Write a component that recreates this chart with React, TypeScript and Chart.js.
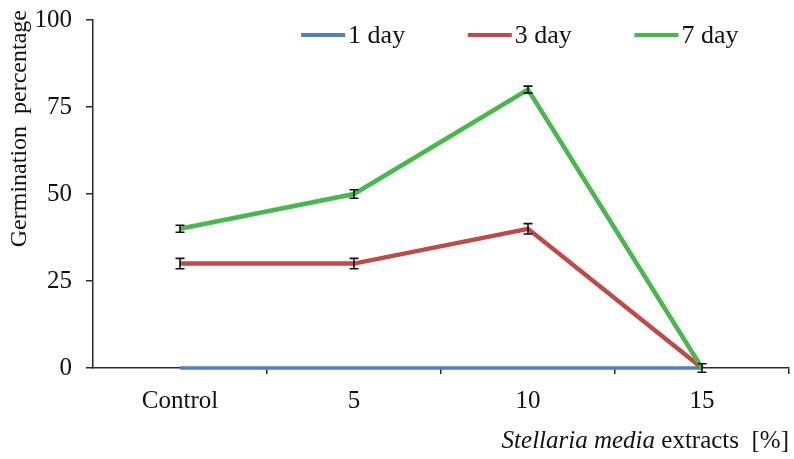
import React, { useEffect, useRef } from "react";
import { Chart, registerables } from "chart.js";

Chart.register(...registerables);

const categories = ["Control", "5", "10", "15"];
const seriesLabels = ["1 day", "3 day", "7 day"];
const seriesColors = ["#4F81BD", "#BE4B48", "#47B84B"];
const day1 = [0, 0, 0, 0];
const day3 = [30, 30, 40, 0];
const day7 = [40, 50, 80, 0];
const day1Err = [0, 0, 0, 0];
const day3Err = [1.5, 1.5, 1.5, 0];
const day7Err = [1, 1.2, 1, 1.2];
const yTickValues = [0, 25, 50, 75, 100];
const yTitle = "Germination  percentage";
const xTitleItalic = "Stellaria media";
const xTitleRest = " extracts  [%]";

const FONT = "'Liberation Serif', 'Times New Roman', serif";
const AXIS_COLOR = "#2b2b2b";

const errorBarPlugin = {
  id: "errorBars",
  afterDatasetsDraw(chart: any) {
    const ctx = chart.ctx;
    const yScale = chart.scales.y;
    ctx.save();
    ctx.strokeStyle = "#111";
    ctx.lineWidth = 1.6;
    chart.data.datasets.forEach((ds: any, di: number) => {
      const errs = ds.errors as number[];
      if (!errs) return;
      const meta = chart.getDatasetMeta(di);
      meta.data.forEach((pt: any, i: number) => {
        const e = errs[i];
        if (!e) return;
        const v = ds.data[i];
        const yTop = yScale.getPixelForValue(v + e);
        const yBot = yScale.getPixelForValue(Math.max(v - e, -1.5));
        const x = pt.x;
        const hw = 4.5;
        ctx.beginPath();
        ctx.moveTo(x, yTop);
        ctx.lineTo(x, yBot);
        ctx.moveTo(x - hw, yTop);
        ctx.lineTo(x + hw, yTop);
        ctx.moveTo(x - hw, yBot);
        ctx.lineTo(x + hw, yBot);
        ctx.stroke();
      });
    });
    ctx.restore();
  },
};

const textPlugin = {
  id: "customText",
  afterDraw(chart: any) {
    const ctx = chart.ctx;
    const area = chart.chartArea;
    ctx.save();
    ctx.fillStyle = "#111";
    // Legend
    ctx.font = `26px ${FONT}`;
    ctx.textBaseline = "middle";
    ctx.textAlign = "left";
    const legendY = area.top + 15;
    const startX = area.left + 0.299 * (area.right - area.left);
    const step = 0.2395 * (area.right - area.left);
    chart.data.datasets.forEach((ds: any, i: number) => {
      const x0 = startX + i * step;
      ctx.strokeStyle = ds.borderColor;
      ctx.lineWidth = 4;
      ctx.beginPath();
      ctx.moveTo(x0, legendY);
      ctx.lineTo(x0 + 44, legendY);
      ctx.stroke();
      ctx.fillStyle = "#111";
      ctx.fillText(ds.label, x0 + 47, legendY + 1);
    });
    // Y title
    ctx.save();
    ctx.translate(20, 10);
    ctx.rotate(-Math.PI / 2);
    ctx.font = `24px ${FONT}`;
    ctx.textAlign = "right";
    ctx.textBaseline = "middle";
    ctx.fillText(yTitle, 0, 0);
    ctx.restore();
    // X title
    ctx.textBaseline = "alphabetic";
    ctx.textAlign = "left";
    ctx.font = `25px ${FONT}`;
    const restW = ctx.measureText(xTitleRest).width;
    ctx.font = `italic 25px ${FONT}`;
    const itW = ctx.measureText(xTitleItalic).width;
    const rightX = area.right;
    const baseY = 448;
    const x0 = rightX - restW - itW;
    ctx.fillText(xTitleItalic, x0, baseY);
    ctx.font = `25px ${FONT}`;
    ctx.fillText(xTitleRest, x0 + itW, baseY);
    ctx.restore();
  },
};

export default function App() {
  const ref = useRef<HTMLCanvasElement>(null);

  useEffect(() => {
    document.body.style.margin = "0";
    const canvas = ref.current;
    if (!canvas) return;
    const datasets = [day1, day3, day7].map((d, i) => ({
      label: seriesLabels[i],
      data: d,
      errors: [day1Err, day3Err, day7Err][i],
      borderColor: seriesColors[i],
      backgroundColor: seriesColors[i],
      borderWidth: i === 0 ? 3.5 : 4.5,
      pointRadius: 0,
      tension: 0,
      clip: false,
      order: 2 - i,
    }));
    const chart = new Chart(canvas, {
      type: "line",
      data: { labels: categories, datasets: datasets as any },
      plugins: [errorBarPlugin, textPlugin],
      options: {
        animation: false,
        responsive: false,
        maintainAspectRatio: false,
        layout: { padding: { left: 0, right: 5, top: 20, bottom: 0 } },
        plugins: {
          legend: { display: false },
          tooltip: { enabled: false },
        },
        scales: {
          x: {
            type: "category",
            offset: true,
            border: { display: true, color: AXIS_COLOR, width: 1.5 },
            grid: {
              offset: true,
              drawOnChartArea: false,
              drawTicks: true,
              tickLength: 6,
              color: (c: any) => (c.index === 0 ? "rgba(0,0,0,0)" : AXIS_COLOR),
              lineWidth: 1.5,
            },
            ticks: {
              color: "#111",
              font: { family: FONT, size: 25 },
              padding: 12,
              maxRotation: 0,
            },
            afterFit: (s: any) => {
              s.height = 91;
              s.paddingLeft = 0;
              s.paddingRight = 0;
            },
          },
          y: {
            min: 0,
            max: 100,
            afterBuildTicks: (s: any) => {
              s.ticks = yTickValues.map((v) => ({ value: v }));
            },
            border: { display: true, color: AXIS_COLOR, width: 1.5 },
            grid: {
              drawOnChartArea: false,
              drawTicks: true,
              tickLength: 7,
              color: AXIS_COLOR,
              lineWidth: 1.5,
            },
            ticks: {
              color: "#111",
              font: { family: FONT, size: 25 },
              padding: 14,
            },
            afterFit: (s: any) => {
              s.width = 93;
              s.paddingTop = 0;
              s.paddingBottom = 0;
            },
          },
        },
      } as any,
    });
    return () => chart.destroy();
  }, []);

  return (
    <div style={{ width: 794, height: 459 }}>
      <canvas ref={ref} width={794} height={459} style={{ display: "block" }} />
    </div>
  );
}
